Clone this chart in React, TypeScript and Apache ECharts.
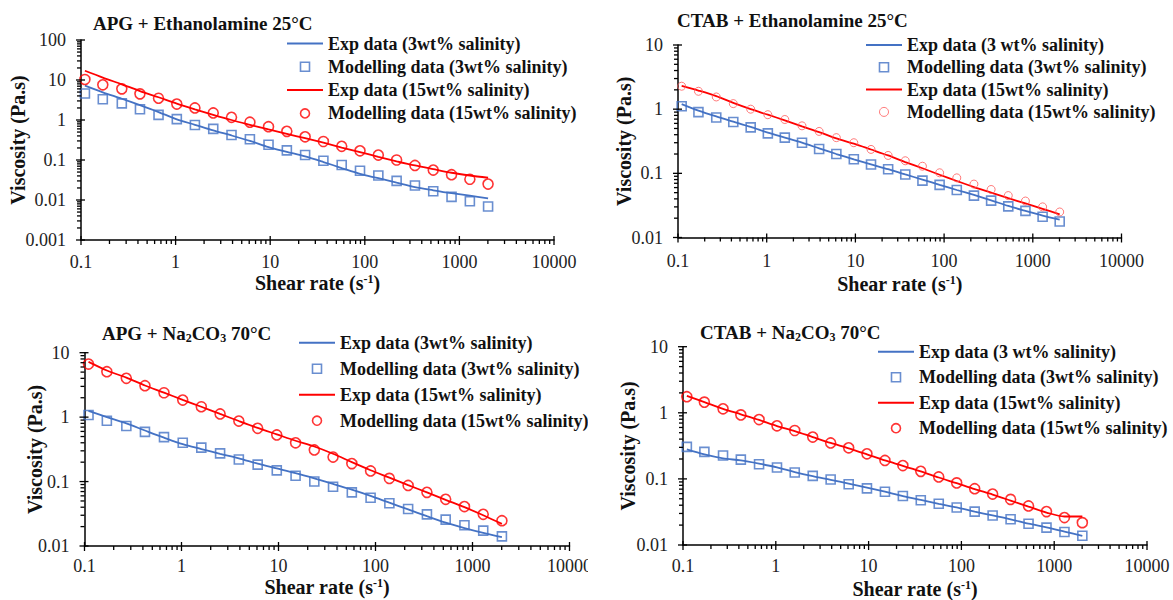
import React, { useEffect, useRef } from "react";
import * as echarts from "echarts";

// Shear rate (s^-1) of every measured / modelled point
const shearRate = [0.11, 0.17, 0.27, 0.42, 0.66, 1.03, 1.6, 2.5, 3.9, 6.1, 9.6, 15, 23.4, 36.5, 57, 89, 139, 217, 339, 529, 826, 1290, 2010];

// Panel 1: APG + Ethanolamine 25°C
const p1Exp3 = [7.2, 4.9, 3.4, 2.35, 1.58, 1.04, 0.76, 0.55, 0.41, 0.3, 0.21, 0.16, 0.123, 0.089, 0.063, 0.045, 0.035, 0.027, 0.021, 0.0175, 0.0148, 0.0128, 0.011];
const p1Mod3 = [4.6, 3.3, 2.6, 1.85, 1.34, 1.05, 0.75, 0.6, 0.42, 0.33, 0.24, 0.174, 0.133, 0.096, 0.075, 0.054, 0.041, 0.03, 0.023, 0.0166, 0.012, 0.0093, 0.0069];
const p1Exp15 = [17, 11.5, 7.8, 5.3, 3.7, 2.57, 1.85, 1.35, 1.0, 0.76, 0.58, 0.45, 0.35, 0.27, 0.205, 0.158, 0.12, 0.093, 0.073, 0.059, 0.048, 0.041, 0.036];
const p1Mod15 = [10.3, 7.6, 6.0, 4.5, 3.5, 2.5, 2.0, 1.5, 1.17, 0.88, 0.68, 0.52, 0.38, 0.29, 0.22, 0.17, 0.133, 0.1, 0.073, 0.056, 0.043, 0.033, 0.025];

// Panel 2: CTAB + Ethanolamine 25°C
const p2Exp3 = [1.2, 0.95, 0.77, 0.64, 0.53, 0.43, 0.36, 0.3, 0.245, 0.2, 0.165, 0.138, 0.116, 0.096, 0.08, 0.066, 0.055, 0.046, 0.038, 0.031, 0.026, 0.022, 0.019];
const p2Mod3 = [1.11, 0.9, 0.74, 0.63, 0.52, 0.42, 0.36, 0.3, 0.24, 0.2, 0.166, 0.137, 0.116, 0.096, 0.077, 0.066, 0.055, 0.045, 0.0375, 0.0306, 0.026, 0.021, 0.0178];
const p2Exp15 = [2.3, 1.95, 1.6, 1.25, 1.0, 0.82, 0.67, 0.54, 0.44, 0.35, 0.29, 0.235, 0.19, 0.15, 0.12, 0.095, 0.076, 0.061, 0.05, 0.041, 0.034, 0.028, 0.023];
const p2Mod15 = [2.28, 1.9, 1.55, 1.22, 1.0, 0.82, 0.69, 0.55, 0.45, 0.36, 0.3, 0.236, 0.19, 0.157, 0.129, 0.102, 0.085, 0.068, 0.056, 0.045, 0.037, 0.03, 0.025];

// Panel 3: APG + Na2CO3 70°C
const p3Exp3 = [1.25, 1.0, 0.8, 0.62, 0.48, 0.38, 0.32, 0.27, 0.23, 0.19, 0.16, 0.135, 0.112, 0.092, 0.075, 0.06, 0.047, 0.037, 0.029, 0.023, 0.019, 0.016, 0.0137];
const p3Mod3 = [1.08, 0.88, 0.73, 0.59, 0.49, 0.4, 0.336, 0.274, 0.22, 0.183, 0.149, 0.123, 0.1, 0.083, 0.068, 0.056, 0.046, 0.0375, 0.031, 0.0257, 0.021, 0.0173, 0.0141];
const p3Exp15 = [7.2, 5.3, 4.1, 3.1, 2.4, 1.85, 1.45, 1.12, 0.87, 0.68, 0.54, 0.43, 0.35, 0.27, 0.2, 0.15, 0.115, 0.088, 0.068, 0.052, 0.04, 0.03, 0.022];
const p3Mod15 = [6.67, 5.07, 4.0, 3.08, 2.39, 1.84, 1.45, 1.12, 0.87, 0.67, 0.53, 0.4, 0.31, 0.24, 0.19, 0.146, 0.112, 0.087, 0.068, 0.053, 0.041, 0.031, 0.0247];

// Panel 4: CTAB + Na2CO3 70°C
const p4Exp3 = [0.28, 0.235, 0.205, 0.19, 0.17, 0.15, 0.127, 0.11, 0.097, 0.085, 0.074, 0.064, 0.055, 0.048, 0.042, 0.037, 0.032, 0.028, 0.0245, 0.021, 0.0185, 0.016, 0.0138];
const p4Mod3 = [0.305, 0.256, 0.226, 0.196, 0.167, 0.149, 0.125, 0.111, 0.098, 0.083, 0.072, 0.064, 0.055, 0.0475, 0.042, 0.037, 0.032, 0.028, 0.0245, 0.021, 0.0183, 0.0157, 0.0138];
const p4Exp15 = [1.8, 1.45, 1.15, 0.95, 0.78, 0.63, 0.53, 0.43, 0.35, 0.29, 0.235, 0.19, 0.158, 0.13, 0.105, 0.086, 0.07, 0.058, 0.047, 0.038, 0.031, 0.027, 0.027];
const p4Mod15 = [1.75, 1.45, 1.15, 0.93, 0.79, 0.635, 0.54, 0.43, 0.35, 0.295, 0.24, 0.19, 0.159, 0.13, 0.107, 0.087, 0.071, 0.059, 0.049, 0.039, 0.032, 0.026, 0.0218];

// Panel titles (rich-text markup for the subscripts)
const titles = [
  "{n|APG + Ethanolamine 25°C}",
  "{n|CTAB + Ethanolamine 25°C}",
  "{n|APG + Na}{s|2}{n|CO}{s|3}{n| 70°C}",
  "{n|CTAB + Na}{s|2}{n|CO}{s|3}{n| 70°C}",
];
const xRange = [0.1, 10000];
const yRanges = [[0.001, 100], [0.01, 10], [0.01, 10], [0.01, 10]];

const FONT = "'Liberation Serif', 'Times New Roman', serif";
const BLUE = "#4472C4";
const RED = "#FF0000";
const LIGHT_RED = "#FF5A5A";

type Panel = {
  grid: { left: number; top: number; width: number; height: number };
  title: string; titlePos: [number, number];
  legendPos: [number, number]; legendGap: number;
  names: string[];
  yRange: number[];
  yNameGap: number; xLabelMargin: number; xNameGap: number;
  exp3: number[]; mod3: number[]; exp15: number[]; mod15: number[];
  lightCircles?: boolean;
};

const panels: Panel[] = [
  {
    grid: { left: 81, top: 40, width: 473, height: 200 },
    title: titles[0], titlePos: [93, 12], legendPos: [287, 34.5], legendGap: 5.3,
    names: ["Exp data (3wt% salinity)", "Modelling data (3wt% salinity)", "Exp data (15wt% salinity)", "Modelling data (15wt% salinity)"],
    yRange: yRanges[0], yNameGap: 53, xLabelMargin: 13, xNameGap: 33,
    exp3: p1Exp3, mod3: p1Mod3, exp15: p1Exp15, mod15: p1Mod15,
  },
  {
    grid: { left: 678, top: 45, width: 443.5, height: 192.5 },
    title: titles[1], titlePos: [677, 9], legendPos: [866, 36], legendGap: 4.3,
    names: ["Exp data (3 wt% salinity)", "Modelling data (3wt% salinity)", "Exp data (15wt% salinity)", "Modelling data (15wt% salinity)"],
    yRange: yRanges[1], yNameGap: 44, xLabelMargin: 14, xNameGap: 36,
    exp3: p2Exp3, mod3: p2Mod3, exp15: p2Exp15, mod15: p2Mod15, lightCircles: true,
  },
  {
    grid: { left: 84.5, top: 352.7, width: 485, height: 193.3 },
    title: titles[2], titlePos: [102, 322], legendPos: [299, 333.7], legendGap: 8,
    names: ["Exp data (3wt% salinity)", "Modelling data (3wt% salinity)", "Exp data (15wt% salinity)", "Modelling data (15wt% salinity)"],
    yRange: yRanges[2], yNameGap: 40, xLabelMargin: 11, xNameGap: 31,
    exp3: p3Exp3, mod3: p3Mod3, exp15: p3Exp15, mod15: p3Mod15,
  },
  {
    grid: { left: 683, top: 346.7, width: 464, height: 198.3 },
    title: titles[3], titlePos: [700, 321], legendPos: [878, 342.7], legendGap: 7.5,
    names: ["Exp data (3 wt% salinity)", "Modelling data (3wt% salinity)", "Exp data (15wt% salinity)", "Modelling data (15wt% salinity)"],
    yRange: yRanges[3], yNameGap: 45, xLabelMargin: 12, xNameGap: 34,
    exp3: p4Exp3, mod3: p4Mod3, exp15: p4Exp15, mod15: p4Mod15,
  },
];

function decadeMinors(lo: number, hi: number): number[] {
  const out: number[] = [];
  for (let e = Math.round(Math.log10(lo)); e < Math.round(Math.log10(hi)); e++) {
    for (let k = 2; k <= 9; k++) out.push(+(k * Math.pow(10, e)).toPrecision(3));
  }
  return out;
}

function decadeMajors(lo: number, hi: number): number[] {
  const out: number[] = [];
  for (let e = Math.round(Math.log10(lo)); e <= Math.round(Math.log10(hi)); e++) out.push(+Math.pow(10, e).toPrecision(3));
  return out;
}

function fmtLog(v: number): string {
  const e = Math.round(Math.log10(v));
  return e < 0 ? Math.pow(10, e).toFixed(-e) : String(Math.round(Math.pow(10, e)));
}

const LINE_ICON = "path://M0,0 L36,0 L36,2 L0,2 Z";
const SQUARE_ICON = "path://M0,0 L10,0 L10,10 L0,10 Z";

// tick-mark series: dir "x" draws on the bottom axis, "y" on the left axis
function tickSeries(i: number, values: number[][], dir: "x" | "y", before: number, after: number) {
  return {
    type: "custom", xAxisIndex: i, yAxisIndex: i, silent: true, clip: false, z: 5,
    data: values,
    renderItem: (_params: any, api: any) => {
      const pt = api.coord([api.value(0), api.value(1)]);
      const shape = dir === "x"
        ? { x1: pt[0], y1: pt[1] - before, x2: pt[0], y2: pt[1] + after }
        : { x1: pt[0] - after, y1: pt[1], x2: pt[0] + before, y2: pt[1] };
      return { type: "line", shape, style: { stroke: "#000", lineWidth: 1.3 } };
    },
  };
}

function buildOption() {
  const grid: any[] = [];
  const xAxis: any[] = [];
  const yAxis: any[] = [];
  const series: any[] = [];
  const legend: any[] = [];
  const title: any[] = [];

  panels.forEach((p, i) => {
    grid.push({ ...p.grid, containLabel: false, outerBoundsMode: "none" });
    xAxis.push({
      type: "log", logBase: 10, gridIndex: i, min: xRange[0], max: xRange[1],
      axisLine: { show: true, lineStyle: { color: "#000", width: 1.5 } },
      axisTick: { show: false },
      axisLabel: { formatter: fmtLog, color: "#222", fontFamily: FONT, fontSize: 18, lineHeight: 18, margin: p.xLabelMargin },
      splitLine: { show: false },
      name: "{b|Shear rate (s}{p|-1}{b|)}", nameLocation: "middle", nameGap: p.xNameGap, nameMoveOverlap: false,
      nameTextStyle: {
        rich: {
          b: { fontFamily: FONT, fontWeight: "bold", fontSize: 20, color: "#111", lineHeight: 20 },
          p: { fontFamily: FONT, fontWeight: "bold", fontSize: 12, color: "#111", lineHeight: 12, verticalAlign: "top" },
        },
      },
    });
    yAxis.push({
      type: "log", logBase: 10, gridIndex: i, min: p.yRange[0], max: p.yRange[1],
      axisLine: { show: true, lineStyle: { color: "#000", width: 1.5 } },
      axisTick: { show: false },
      axisLabel: { formatter: fmtLog, color: "#222", fontFamily: FONT, fontSize: 18, margin: 15 },
      splitLine: { show: false },
      name: "Viscosity (Pa.s)", nameLocation: "middle", nameGap: p.yNameGap, nameMoveOverlap: false,
      nameTextStyle: { fontFamily: FONT, fontWeight: "bold", fontSize: 20, color: "#111" },
    });

    const [n3e, n3m, n15e, n15m] = p.names;
    const circleStyle = p.lightCircles
      ? { color: "rgba(255,255,255,0)", borderColor: LIGHT_RED, borderWidth: 1 }
      : { color: "rgba(255,255,255,0)", borderColor: RED, borderWidth: 1.6 };
    const squareStyle = { color: "rgba(255,255,255,0)", borderColor: BLUE, borderWidth: 1.6 };

    series.push(
      {
        type: "line", name: n3e, xAxisIndex: i, yAxisIndex: i, symbol: "none", smooth: 0.3,
        lineStyle: { color: BLUE, width: 1.8 }, itemStyle: { color: BLUE },
        data: shearRate.map((x, j) => [x, p.exp3[j]]), z: 2,
      },
      {
        type: "scatter", name: n3m, xAxisIndex: i, yAxisIndex: i, symbol: "rect", symbolSize: 9,
        itemStyle: squareStyle,
        data: shearRate.map((x, j) => [x, p.mod3[j]]), z: 3,
      },
      {
        type: "line", name: n15e, xAxisIndex: i, yAxisIndex: i, symbol: "none", smooth: 0.3,
        lineStyle: { color: RED, width: 1.8 }, itemStyle: { color: RED },
        data: shearRate.map((x, j) => [x, p.exp15[j]]), z: 2,
      },
      {
        type: "scatter", name: n15m, xAxisIndex: i, yAxisIndex: i, symbol: "circle",
        symbolSize: p.lightCircles ? 8 : 10,
        itemStyle: circleStyle,
        data: shearRate.map((x, j) => [x, p.mod15[j]]), z: 3,
      },
      tickSeries(i, decadeMinors(xRange[0], xRange[1]).map((v) => [v, p.yRange[0]]), "x", 0, 4),
      tickSeries(i, decadeMajors(xRange[0], xRange[1]).map((v) => [v, p.yRange[0]]), "x", 4, 5),
      tickSeries(i, decadeMinors(p.yRange[0], p.yRange[1]).map((v) => [xRange[0], v]), "y", 0, 4),
      tickSeries(i, decadeMajors(p.yRange[0], p.yRange[1]).map((v) => [xRange[0], v]), "y", 4, 5)
    );

    legend.push({
      orient: "vertical", left: p.legendPos[0], top: p.legendPos[1], padding: 0,
      itemWidth: 36, itemHeight: 9, itemGap: p.legendGap, selectedMode: false,
      textStyle: { fontFamily: FONT, fontWeight: "bold", fontSize: 18, color: "#111", lineHeight: 18, padding: [0, 0, 0, 0] },
      data: [
        { name: n3e, icon: LINE_ICON, itemStyle: { color: BLUE } },
        { name: n3m, icon: SQUARE_ICON, itemStyle: squareStyle },
        { name: n15e, icon: LINE_ICON, itemStyle: { color: RED } },
        { name: n15m, icon: "circle", itemStyle: circleStyle },
      ],
    });

    title.push({
      text: p.title, left: p.titlePos[0], top: p.titlePos[1], padding: 0,
      textStyle: {
        rich: {
          n: { fontFamily: FONT, fontWeight: "bold", fontSize: 19, color: "#111", lineHeight: 22 },
          s: { fontFamily: FONT, fontWeight: "bold", fontSize: 12, color: "#111", lineHeight: 13, verticalAlign: "bottom" },
        },
      },
    });
  });

  // the bottom-left panel is cropped at its right edge in the original figure
  const graphic = [
    { type: "rect", left: 588, top: 330, shape: { width: 14, height: 270 }, style: { fill: "#fff" }, z: 100, silent: true },
  ];

  return { animation: false, backgroundColor: "#fff", title, legend, grid, xAxis, yAxis, series, graphic };
}

export default function App() {
  const ref = useRef<HTMLDivElement>(null);
  useEffect(() => {
    if (!ref.current) return;
    const chart = echarts.init(ref.current, undefined, { renderer: "svg" });
    chart.setOption(buildOption() as any);
    return () => chart.dispose();
  }, []);
  return <div ref={ref} style={{ position: "fixed", left: 0, top: 0, width: 1173, height: 600, background: "#fff" }} />;
}
